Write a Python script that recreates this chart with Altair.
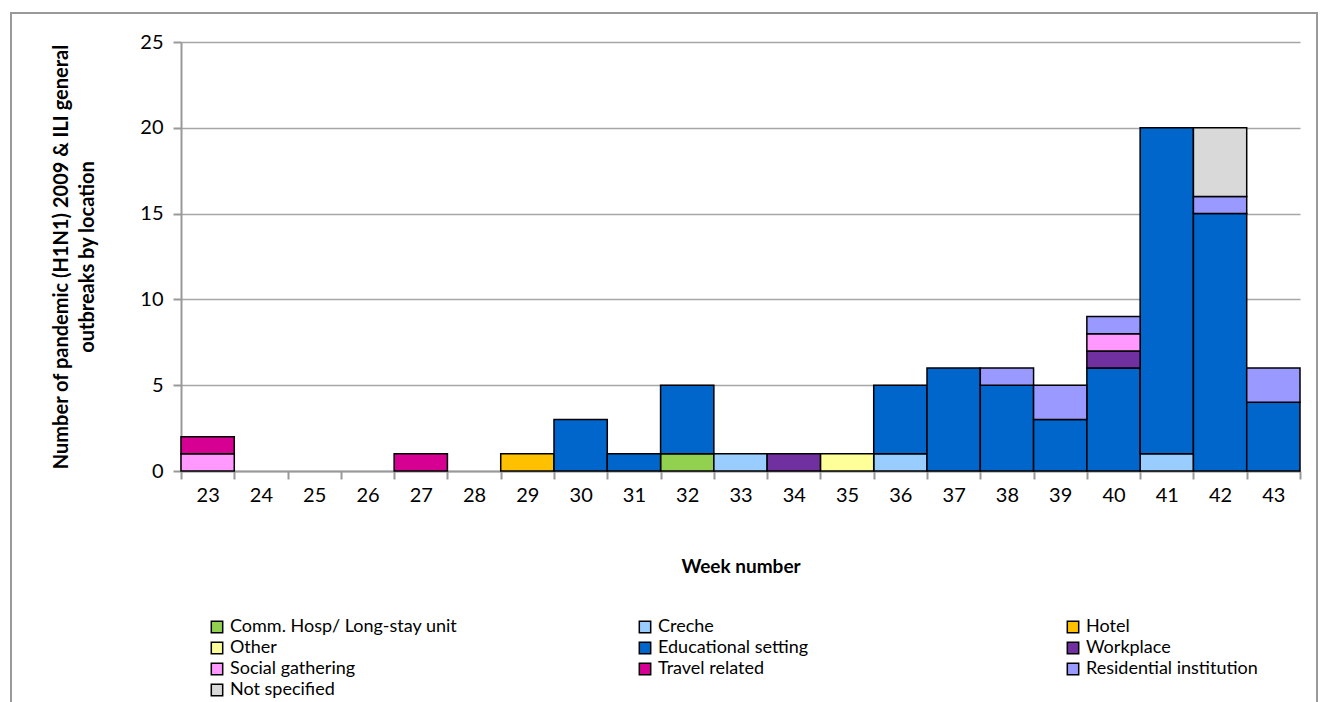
import altair as alt
import pandas as pd

weeks = [23, 24, 25, 26, 27, 28, 29, 30, 31, 32, 33, 34, 35, 36, 37, 38, 39, 40, 41, 42, 43]

categories = [
    "Comm. Hosp/ Long-stay unit", "Creche", "Hotel",
    "Other", "Educational setting", "Workplace",
    "Social gathering", "Travel related", "Residential institution",
    "Not specified",
]
colors = ["#92D050", "#99CCFF", "#FFC000",
          "#FFFF99", "#0066CC", "#7030A0",
          "#FF99FF", "#D60093", "#9999FF",
          "#D9D9D9"]

comm_hosp     = [0, 0, 0, 0, 0, 0, 0, 0, 0, 1, 0, 0, 0, 0, 0, 0, 0, 0, 0, 0, 0]
creche        = [0, 0, 0, 0, 0, 0, 0, 0, 0, 0, 1, 0, 0, 1, 0, 0, 0, 0, 1, 0, 0]
hotel         = [0, 0, 0, 0, 0, 0, 1, 0, 0, 0, 0, 0, 0, 0, 0, 0, 0, 0, 0, 0, 0]
other         = [0, 0, 0, 0, 0, 0, 0, 0, 0, 0, 0, 0, 1, 0, 0, 0, 0, 0, 0, 0, 0]
educational   = [0, 0, 0, 0, 0, 0, 0, 3, 1, 4, 0, 0, 0, 4, 6, 5, 3, 6, 19, 15, 4]
workplace     = [0, 0, 0, 0, 0, 0, 0, 0, 0, 0, 0, 1, 0, 0, 0, 0, 0, 1, 0, 0, 0]
social        = [1, 0, 0, 0, 0, 0, 0, 0, 0, 0, 0, 0, 0, 0, 0, 0, 0, 1, 0, 0, 0]
travel        = [1, 0, 0, 0, 1, 0, 0, 0, 0, 0, 0, 0, 0, 0, 0, 0, 0, 0, 0, 0, 0]
residential   = [0, 0, 0, 0, 0, 0, 0, 0, 0, 0, 0, 0, 0, 0, 0, 1, 2, 1, 0, 1, 2]
not_specified = [0, 0, 0, 0, 0, 0, 0, 0, 0, 0, 0, 0, 0, 0, 0, 0, 0, 0, 0, 4, 0]

series = [comm_hosp, creche, hotel, other, educational, workplace,
          social, travel, residential, not_specified]

rows = []
for idx, (cat, vals) in enumerate(zip(categories, series)):
    for w, v in zip(weeks, vals):
        if v > 0:
            rows.append({"week": w, "location": cat, "count": v, "idx": idx})
df = pd.DataFrame(rows)

FONT = "Lato"
W, H = 1119, 429

bars = alt.Chart(df).mark_bar(stroke="black", strokeWidth=1.5).encode(
    x=alt.X("week:O", scale=alt.Scale(domain=weeks, paddingInner=0, paddingOuter=0),
            axis=alt.Axis(title="Week number", labelAngle=0, tickBand="extent",
                          labelFontSize=20, labelPadding=6, tickSize=8,
                          titleFontSize=19, titleFontWeight="bold", titlePadding=52,
                          domainColor="#999999", domainWidth=2, tickColor="#999999",
                          tickWidth=2, grid=False, labelColor="black", titleColor="black")),
    y=alt.Y("count:Q", stack="zero", scale=alt.Scale(domain=[0, 25]),
            axis=alt.Axis(title=["Number of pandemic (H1N1) 2009 & ILI general",
                                 "outbreaks by location"],
                          values=[0, 5, 10, 15, 20, 25], labelFontSize=20,
                          labelPadding=10, tickSize=8, titleFontSize=20,
                          titleFontWeight="bold", titlePadding=42, titleLineHeight=26,
                          domainColor="#999999", domainWidth=2, tickColor="#999999",
                          tickWidth=2, gridColor="#A6A6A6", gridWidth=1.5,
                          labelColor="black", titleColor="black")),
    color=alt.Color("location:N", scale=alt.Scale(domain=categories, range=colors),
                    legend=alt.Legend(title=None, orient="none", legendX=27, legendY=576,
                                      direction="horizontal",
                                      columns=3, gridAlign="all", columnPadding=178,
                                      rowPadding=3, symbolType="square", symbolSize=130,
                                      symbolStrokeColor="black", symbolStrokeWidth=1.5,
                                      labelFontSize=18, labelOffset=4, labelLimit=400,
                                      labelColor="black")),
    order=alt.Order("idx:Q", sort="ascending"),
)

frame_df = pd.DataFrame({"a": [0]})
frame = alt.Chart(frame_df).mark_rect(fill=None, stroke="#999999", strokeWidth=2).encode(
    x=alt.value(-170), x2=alt.value(1136), y=alt.value(-29), y2=alt.value(700)
)

chart = alt.layer(frame, bars).properties(
    width=W, height=H,
    autosize=alt.AutoSizeParams(type="none"),
    padding={"left": 181, "top": 42, "right": 21, "bottom": 231},
).configure(font=FONT).configure_view(stroke=None)

chart.save("out.html", embed_options={"renderer": "svg", "actions": False})
